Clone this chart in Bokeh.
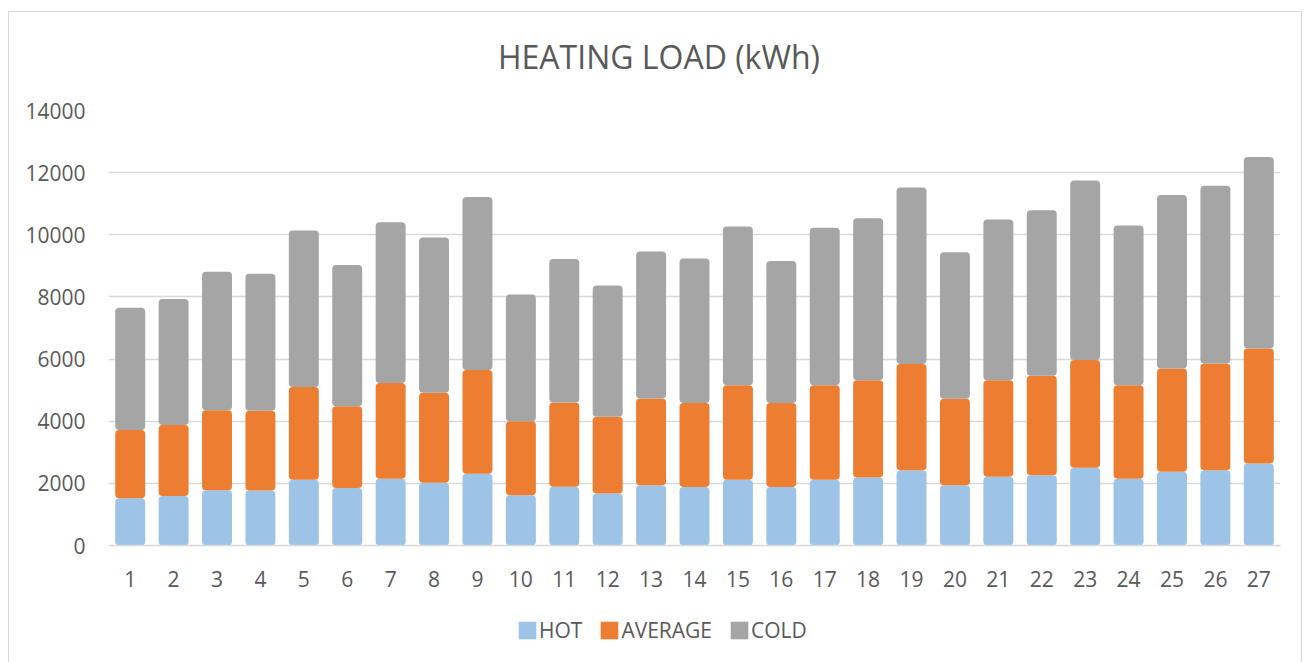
from bokeh.plotting import figure
from bokeh.models import Range1d, FixedTicker, Legend, LegendItem
from bokeh.layouts import column
from bokeh.core.properties import value
from bokeh.embed import file_html
from bokeh.resources import INLINE

categories = [str(i) for i in range(1, 28)]
hot = [1520, 1590, 1780, 1770, 2120, 1850, 2150, 2020, 2310, 1620, 1890, 1670, 1940, 1880,
       2120, 1880, 2120, 2190, 2420, 1940, 2210, 2260, 2500, 2150, 2370, 2420, 2640]
average = [2200, 2290, 2570, 2570, 2980, 2630, 3080, 2900, 3340, 2380, 2710, 2470, 2790, 2710,
           3040, 2710, 3040, 3130, 3420, 2780, 3110, 3200, 3470, 3010, 3330, 3440, 3700]
cold = [3930, 4050, 4460, 4410, 5040, 4550, 5170, 4990, 5570, 4080, 4620, 4230, 4730, 4650,
        5110, 4570, 5070, 5210, 5680, 4720, 5170, 5330, 5780, 5140, 5580, 5720, 6160]
series_names = ["HOT", "AVERAGE", "COLD"]
colors = ["#9dc3e6", "#ed7d31", "#a5a5a5"]
y_ticks = [0, 2000, 4000, 6000, 8000, 10000, 12000, 14000]
title_text = "HEATING LOAD (kWh)"

FONT = "Open Sans"
TXT = "#595959"
W = 1292
FW = 1172  # plotting frame width (all strips share the same frame columns)


def blank(fig):
    fig.outline_line_color = None
    fig.xgrid.visible = False
    fig.ygrid.visible = False
    return fig


# --- title strip (frame is aligned with main chart frame) ---
TH = 83
tf = blank(figure(width=W, height=TH, x_range=Range1d(0, FW), y_range=Range1d(0, TH),
                  x_axis_type=None, y_axis_type=None, output_backend="svg",
                  toolbar_location=None, min_border=0))
tf.text(x=[550.5], y=[TH - 44], text=[title_text], text_font=value(FONT),
        text_font_size="32px", text_color=TXT, text_align="center", text_baseline="middle")

# --- main chart ---
data = {"cat": categories, "HOT": hot, "AVERAGE": average, "COLD": cold}
p = figure(x_range=categories, y_range=Range1d(0, 14000),
           frame_width=FW, frame_height=435,
           output_backend="svg", toolbar_location=None,
           min_border_left=99, min_border_right=21, min_border_top=15, min_border_bottom=50)

renderers = p.vbar_stack(series_names, x="cat", width=0.69, source=data, color=colors,
                         line_color=None, border_radius=4)

p.outline_line_color = None
p.xgrid.grid_line_color = None
p.ygrid.grid_line_color = "#d9d9d9"
p.ygrid.grid_line_width = 1.5
p.yaxis.ticker = FixedTicker(ticks=y_ticks)
p.yaxis.axis_line_color = None
p.yaxis.major_tick_line_color = None
p.yaxis.minor_tick_line_color = None
p.yaxis.major_label_standoff = 17
p.xaxis.axis_line_color = "#d9d9d9"
p.xaxis.axis_line_width = 1.5
p.xaxis.major_tick_line_color = None
p.xaxis.major_label_standoff = 19
for ax in (p.xaxis, p.yaxis):
    ax.major_label_text_font = FONT
    ax.major_label_text_font_size = "21px"
    ax.major_label_text_color = TXT

# --- legend strip ---
LH = 67
lf = blank(figure(width=W, height=LH, x_range=Range1d(0, 1), y_range=Range1d(0, 1),
                  x_axis_type=None, y_axis_type=None, output_backend="svg",
                  toolbar_location=None, min_border=0))
# swatch renderers kept outside the visible range; they only feed the legend
dummies = [lf.vbar(x=[-5], top=[-5], bottom=[-6], width=0.1, color=c, line_color=None,
                   border_radius=3) for c in colors]
legend = Legend(items=[LegendItem(label=n, renderers=[r]) for n, r in zip(series_names, dummies)],
                orientation="horizontal", location=(408, 18),
                label_text_font=FONT, label_text_font_size="21px", label_text_color=TXT,
                glyph_width=22, glyph_height=22, label_standoff=1, spacing=16,
                border_line_color=None, background_fill_alpha=0, margin=0, padding=0)
lf.add_layout(legend, "center")

layout = column(tf, p, lf, spacing=0)
layout.styles = {"border": "1px solid #d9d9d9", "margin-left": "8px", "margin-top": "11px"}

open("out.html", "w").write(file_html(layout, INLINE))
